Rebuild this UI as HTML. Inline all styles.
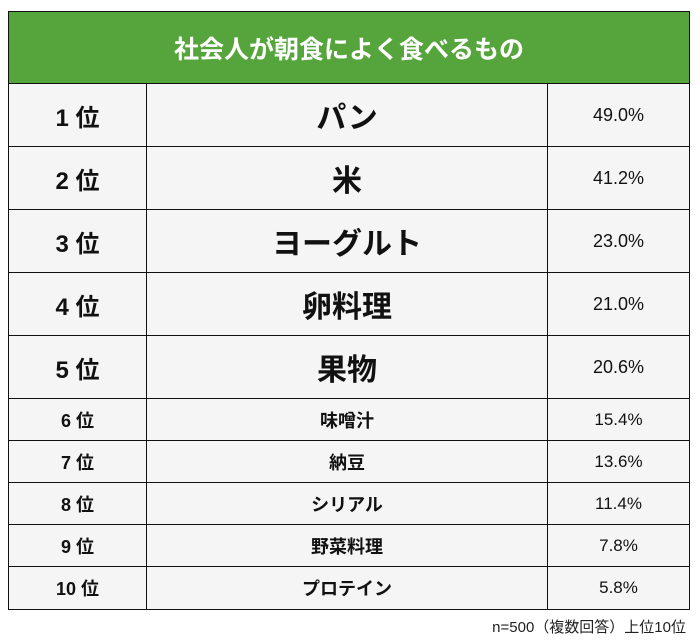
<!DOCTYPE html>
<html><head><meta charset="utf-8"><style>
body{margin:0;width:700px;height:643px;background:#fff;font-family:"Liberation Sans","Noto Sans CJK JP",sans-serif;position:relative;overflow:hidden}
.t{position:absolute;left:8px;top:11px;width:682px;border:1.5px solid #111;box-sizing:border-box}
.h{height:71px;background:#55a53c;color:#fff;font-weight:bold;font-size:25px;display:flex;align-items:center;justify-content:center;border-bottom:1.5px solid #111}
.r{display:flex;background:#f5f5f5;border-bottom:1.5px solid #111;box-sizing:border-box}
.r:last-child{border-bottom:none}
.r div{display:flex;align-items:center;justify-content:center;color:#111}
.a{width:137px;border-right:1.5px solid #111;font-weight:bold}
.b{width:400px;border-right:1.5px solid #111;font-weight:bold}
.c{flex:1;font-size:18px;color:#333}
.big{height:63px}.big .a{font-size:24px}.big .b{font-size:30px}
.sm{height:42px}.sm .a{font-size:18px}.sm .b{font-size:18px}.sm .c{font-size:17px}
.f{position:absolute;right:14px;top:616px;font-size:15px;color:#222}
</style></head><body>
<div class="t">
<div class="h">社会人が朝食によく食べるもの</div>
<div class="r big"><div class="a">1 位</div><div class="b">パン</div><div class="c">49.0%</div></div>
<div class="r big"><div class="a">2 位</div><div class="b">米</div><div class="c">41.2%</div></div>
<div class="r big"><div class="a">3 位</div><div class="b">ヨーグルト</div><div class="c">23.0%</div></div>
<div class="r big"><div class="a">4 位</div><div class="b">卵料理</div><div class="c">21.0%</div></div>
<div class="r big"><div class="a">5 位</div><div class="b">果物</div><div class="c">20.6%</div></div>
<div class="r sm"><div class="a">6 位</div><div class="b">味噌汁</div><div class="c">15.4%</div></div>
<div class="r sm"><div class="a">7 位</div><div class="b">納豆</div><div class="c">13.6%</div></div>
<div class="r sm"><div class="a">8 位</div><div class="b">シリアル</div><div class="c">11.4%</div></div>
<div class="r sm"><div class="a">9 位</div><div class="b">野菜料理</div><div class="c">7.8%</div></div>
<div class="r sm"><div class="a">10 位</div><div class="b">プロテイン</div><div class="c">5.8%</div></div>
</div>
<div class="f">n=500（複数回答）上位10位</div>
</body></html>
